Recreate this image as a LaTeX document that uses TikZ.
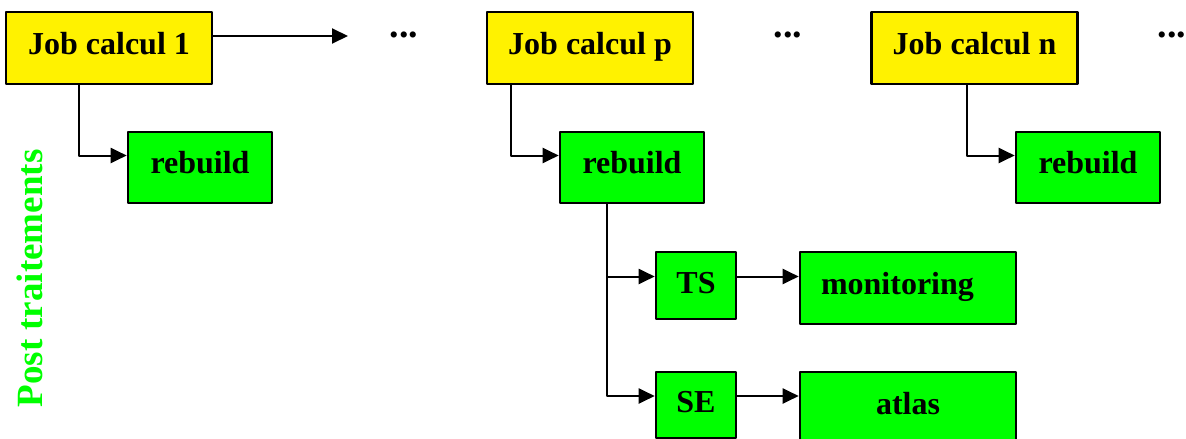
\documentclass[tikz,border=0pt]{standalone}
\usepackage{fontspec}
\setmainfont{Liberation Serif}
\usetikzlibrary{arrows.meta}
\begin{document}
\begin{tikzpicture}[x=1pt,y=-1pt,line join=round,>={Triangle[length=16pt,width=15pt]},font=\bfseries\fontsize{32}{38}\selectfont]
                \tikzset{j/.style={draw=black,line width=2.6pt,fill=yellow,inner sep=0pt,minimum width=206pt,minimum height=72pt,text height=20pt,text depth=8pt},
                g/.style={j,fill=green,minimum width=144pt,minimum height=71pt},
                c/.style={->,line width=2pt}}
                \useasboundingbox(0,0)rectangle(1186,439);

                \path(109,48)node[j](J1){Job calcul 1}++(481,0)node[j](Jp){Job calcul p}++(384.5,0)node[j](Jn){Job calcul n};
                \path(200,167.5)node[g](R1){rebuild}++(432,0)node[g](Rp){rebuild}++(456,0)node[g](Rn){rebuild};
                \path(696,285.5)node[g,minimum width=80pt,minimum height=67pt,text depth=5pt](TS){TS}++(0,119.5)node[g,minimum width=80pt,minimum height=66pt,text depth=6pt](SE){SE};
                \path(908,288)node[g,minimum width=216pt,minimum height=72pt,text width=174pt,inner xsep=21pt,align=left](M){monitoring}++(0,120)node[g,minimum width=216pt,minimum height=72pt](A){atlas};
                \path[font=\bfseries\fontsize{38}{44}\selectfont](404,35)node(e1){...}(788,35)node(e2){...}(1172,35)node(e3){...};
                \node[rotate=90,text=green,font=\bfseries\fontsize{37}{44}\selectfont](pt) at (30,278.5){Post traitements};

                \coordinate(d1) at (348,36);
                \draw[c](J1.east |- d1)--(d1);
                \foreach \x/\y in {J1/R1,Jp/Rp,Jn/Rn}{
                    \draw[c]([xshift=-48pt]\y.west |- \x.south)|-([yshift=12pt]\y.west);	}
                \foreach \y in {TS,SE}{
                    \draw[c]([xshift=48pt]Rp.south west)|-([yshift=9pt]\y.west);	}
                \foreach \x/\y in {TS/M,SE/A}{
                    \draw[c]([yshift=9pt]\x.east)--([yshift=9pt]\x.east -| \y.west);	}
            \end{tikzpicture}
\end{document}
